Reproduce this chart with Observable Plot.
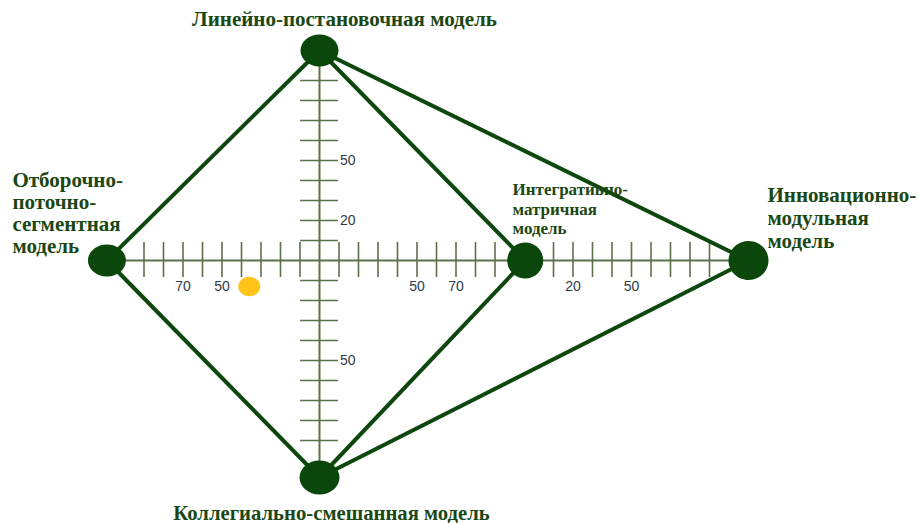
<!DOCTYPE html>
<html><head><meta charset="utf-8">
<script src="https://cdn.jsdelivr.net/npm/d3@7"></script>
<script src="https://cdn.jsdelivr.net/npm/@observablehq/plot@0.6"></script>
<style>body{margin:0;background:#fff;}</style>
</head><body><div id="chart"></div>
<script>
// ---- data ----
const nodeNames  = ["top", "left", "inner", "far", "bottom"];
const nodeLabels = [
  "Линейно-постановочная модель",
  "Отборочно-\nпоточно-\nсегментная\nмодель",
  "Интегративно-\nматричная\nмодель",
  "Инновационно-\nмодульная\nмодель",
  "Коллегиально-смешанная модель"
];
const nodeX = [0, -10.9, 10.55, 22, 0];
const nodeY = [10.5, 0, 0, 0, -10.85];
const edgeFrom = ["top", "top", "top", "left", "inner", "far"];
const edgeTo   = ["left", "inner", "far", "bottom", "bottom", "bottom"];
const hTicks = [-9, -8, -7, -6, -5, -4, -3, -2, -1, 1, 2, 3, 4, 5, 6, 7, 8, 9, 12, 13, 14, 15, 16, 17, 18, 19, 20];
const vTicks = [9, 8, 7, 6, 5, 4, 3, 2, 1, -1, -2, -3, -4, -5, -6, -7, -8, -9];
const hTickLabelPos = [-7, -5, 5, 7, 13, 16];
const hTickLabels   = ["70", "50", "50", "70", "20", "50"];
const vTickLabelPos = [5, 2, -5];
const vTickLabels   = ["50", "20", "50"];
const markerX = [-3.6];
const markerY = [-1.3];

// ---- derived tables ----
const nodes = nodeNames.map((n, i) => ({name: n, label: nodeLabels[i], x: nodeX[i], y: nodeY[i]}));
const byName = Object.fromEntries(nodes.map(d => [d.name, d]));
const edges = edgeFrom.map((f, i) => ({x1: byName[f].x, y1: byName[f].y, x2: byName[edgeTo[i]].x, y2: byName[edgeTo[i]].y}));
const hLabels = hTickLabelPos.map((p, i) => ({x: p, t: hTickLabels[i]}));
const vLabels = vTickLabelPos.map((p, i) => ({y: p, t: vTickLabels[i]}));
const marker = markerX.map((x, i) => ({x, y: markerY[i]}));

const ellipse = (rx, ry) => ({
  draw(ctx) {
    const k = 0.5522847498;
    ctx.moveTo(rx, 0);
    ctx.bezierCurveTo(rx, ry * k, rx * k, ry, 0, ry);
    ctx.bezierCurveTo(-rx * k, ry, -rx, ry * k, -rx, 0);
    ctx.bezierCurveTo(-rx, -ry * k, -rx * k, -ry, 0, -ry);
    ctx.bezierCurveTo(rx * k, -ry, rx, -ry * k, rx, 0);
    ctx.closePath();
  }
});

const W = 919, H = 523;
const axisColor = "#5c7049", edgeColor = "#0e470e", nodeColor = "#0b460b", textColor = "#1b4712", tickText = "#2f3a48";
const serif = "'Liberation Serif', 'Times New Roman', serif";
const big = 21;

const node = n => [byName[n]];

const plot = Plot.plot({
  width: W, height: H,
  marginTop: 0, marginRight: 0, marginBottom: 0, marginLeft: 0,
  x: {domain: [-319 / 19.5, 600 / 19.5], axis: null},
  y: {domain: [(260 - H) / 20, 260 / 20], axis: null},
  style: {background: "#fff", overflow: "visible"},
  marks: [
    // axes
    Plot.ruleY([0], {x1: byName.left.x, x2: byName.far.x, stroke: axisColor, strokeWidth: 2}),
    Plot.ruleX([0], {y1: byName.bottom.y, y2: byName.top.y, stroke: axisColor, strokeWidth: 2}),
    Plot.ruleX(hTicks, {x: d => d, y1: 0.9, y2: -0.85, stroke: axisColor, strokeWidth: 1.6}),
    Plot.ruleY(vTicks, {y: d => d, x1: -0.97, x2: 0.97, stroke: axisColor, strokeWidth: 1.6}),
    Plot.text(hLabels, {x: "x", y: -1.3, text: "t", fill: tickText, fontSize: 14, fontFamily: "'Liberation Sans', Arial, sans-serif"}),
    Plot.text(vLabels, {x: 1.05, y: "y", text: "t", textAnchor: "start", fill: tickText, fontSize: 14, fontFamily: "'Liberation Sans', Arial, sans-serif"}),
    // edges
    Plot.link(edges, {x1: "x1", y1: "y1", x2: "x2", y2: "y2", stroke: edgeColor, strokeWidth: 4}),
    // nodes
    Plot.dot(nodes.filter(d => d.name === "top" || d.name === "left"), {x: "x", y: "y", symbol: ellipse(19, 16), fill: nodeColor}),
    Plot.dot(nodes.filter(d => d.name === "bottom"), {x: "x", y: "y", symbol: ellipse(20, 17), fill: nodeColor}),
    Plot.dot(nodes.filter(d => d.name === "inner"), {x: "x", y: "y", symbol: ellipse(18, 18), fill: nodeColor}),
    Plot.dot(nodes.filter(d => d.name === "far"), {x: "x", y: "y", symbol: ellipse(20, 19.5), fill: nodeColor}),
    Plot.dot(marker, {x: "x", y: "y", symbol: ellipse(11, 9.7), fill: "#ffc417"}),
    // labels
    Plot.text(node("top"), {x: "x", y: "y", text: "label", dx: 25, dy: -25, lineAnchor: "bottom", textAnchor: "middle", fill: textColor, fontWeight: "bold", fontSize: big, fontFamily: serif}),
    Plot.text(node("bottom"), {x: "x", y: "y", text: "label", dx: 12, dy: 42, lineAnchor: "bottom", textAnchor: "middle", fill: textColor, fontWeight: "bold", fontSize: 20.7, fontFamily: serif}),
    Plot.text(node("left"), {x: "x", y: "y", text: "label", dx: -94.5, dy: -7.7, lineAnchor: "bottom", textAnchor: "start", lineHeight: 1.043, fill: textColor, fontWeight: "bold", fontSize: big, fontFamily: serif}),
    Plot.text(node("inner"), {x: "x", y: "y", text: "label", dx: -12.7, dy: -26.7, lineAnchor: "bottom", textAnchor: "start", lineHeight: 1.13, fill: textColor, fontWeight: "bold", fontSize: 17, fontFamily: serif}),
    Plot.text(node("far"), {x: "x", y: "y", text: "label", dx: 19, dy: -12.3, lineAnchor: "bottom", textAnchor: "start", lineHeight: 1.095, fill: textColor, fontWeight: "bold", fontSize: big, fontFamily: serif})
  ]
});
document.getElementById("chart").appendChild(plot);
</script>
</body></html>
